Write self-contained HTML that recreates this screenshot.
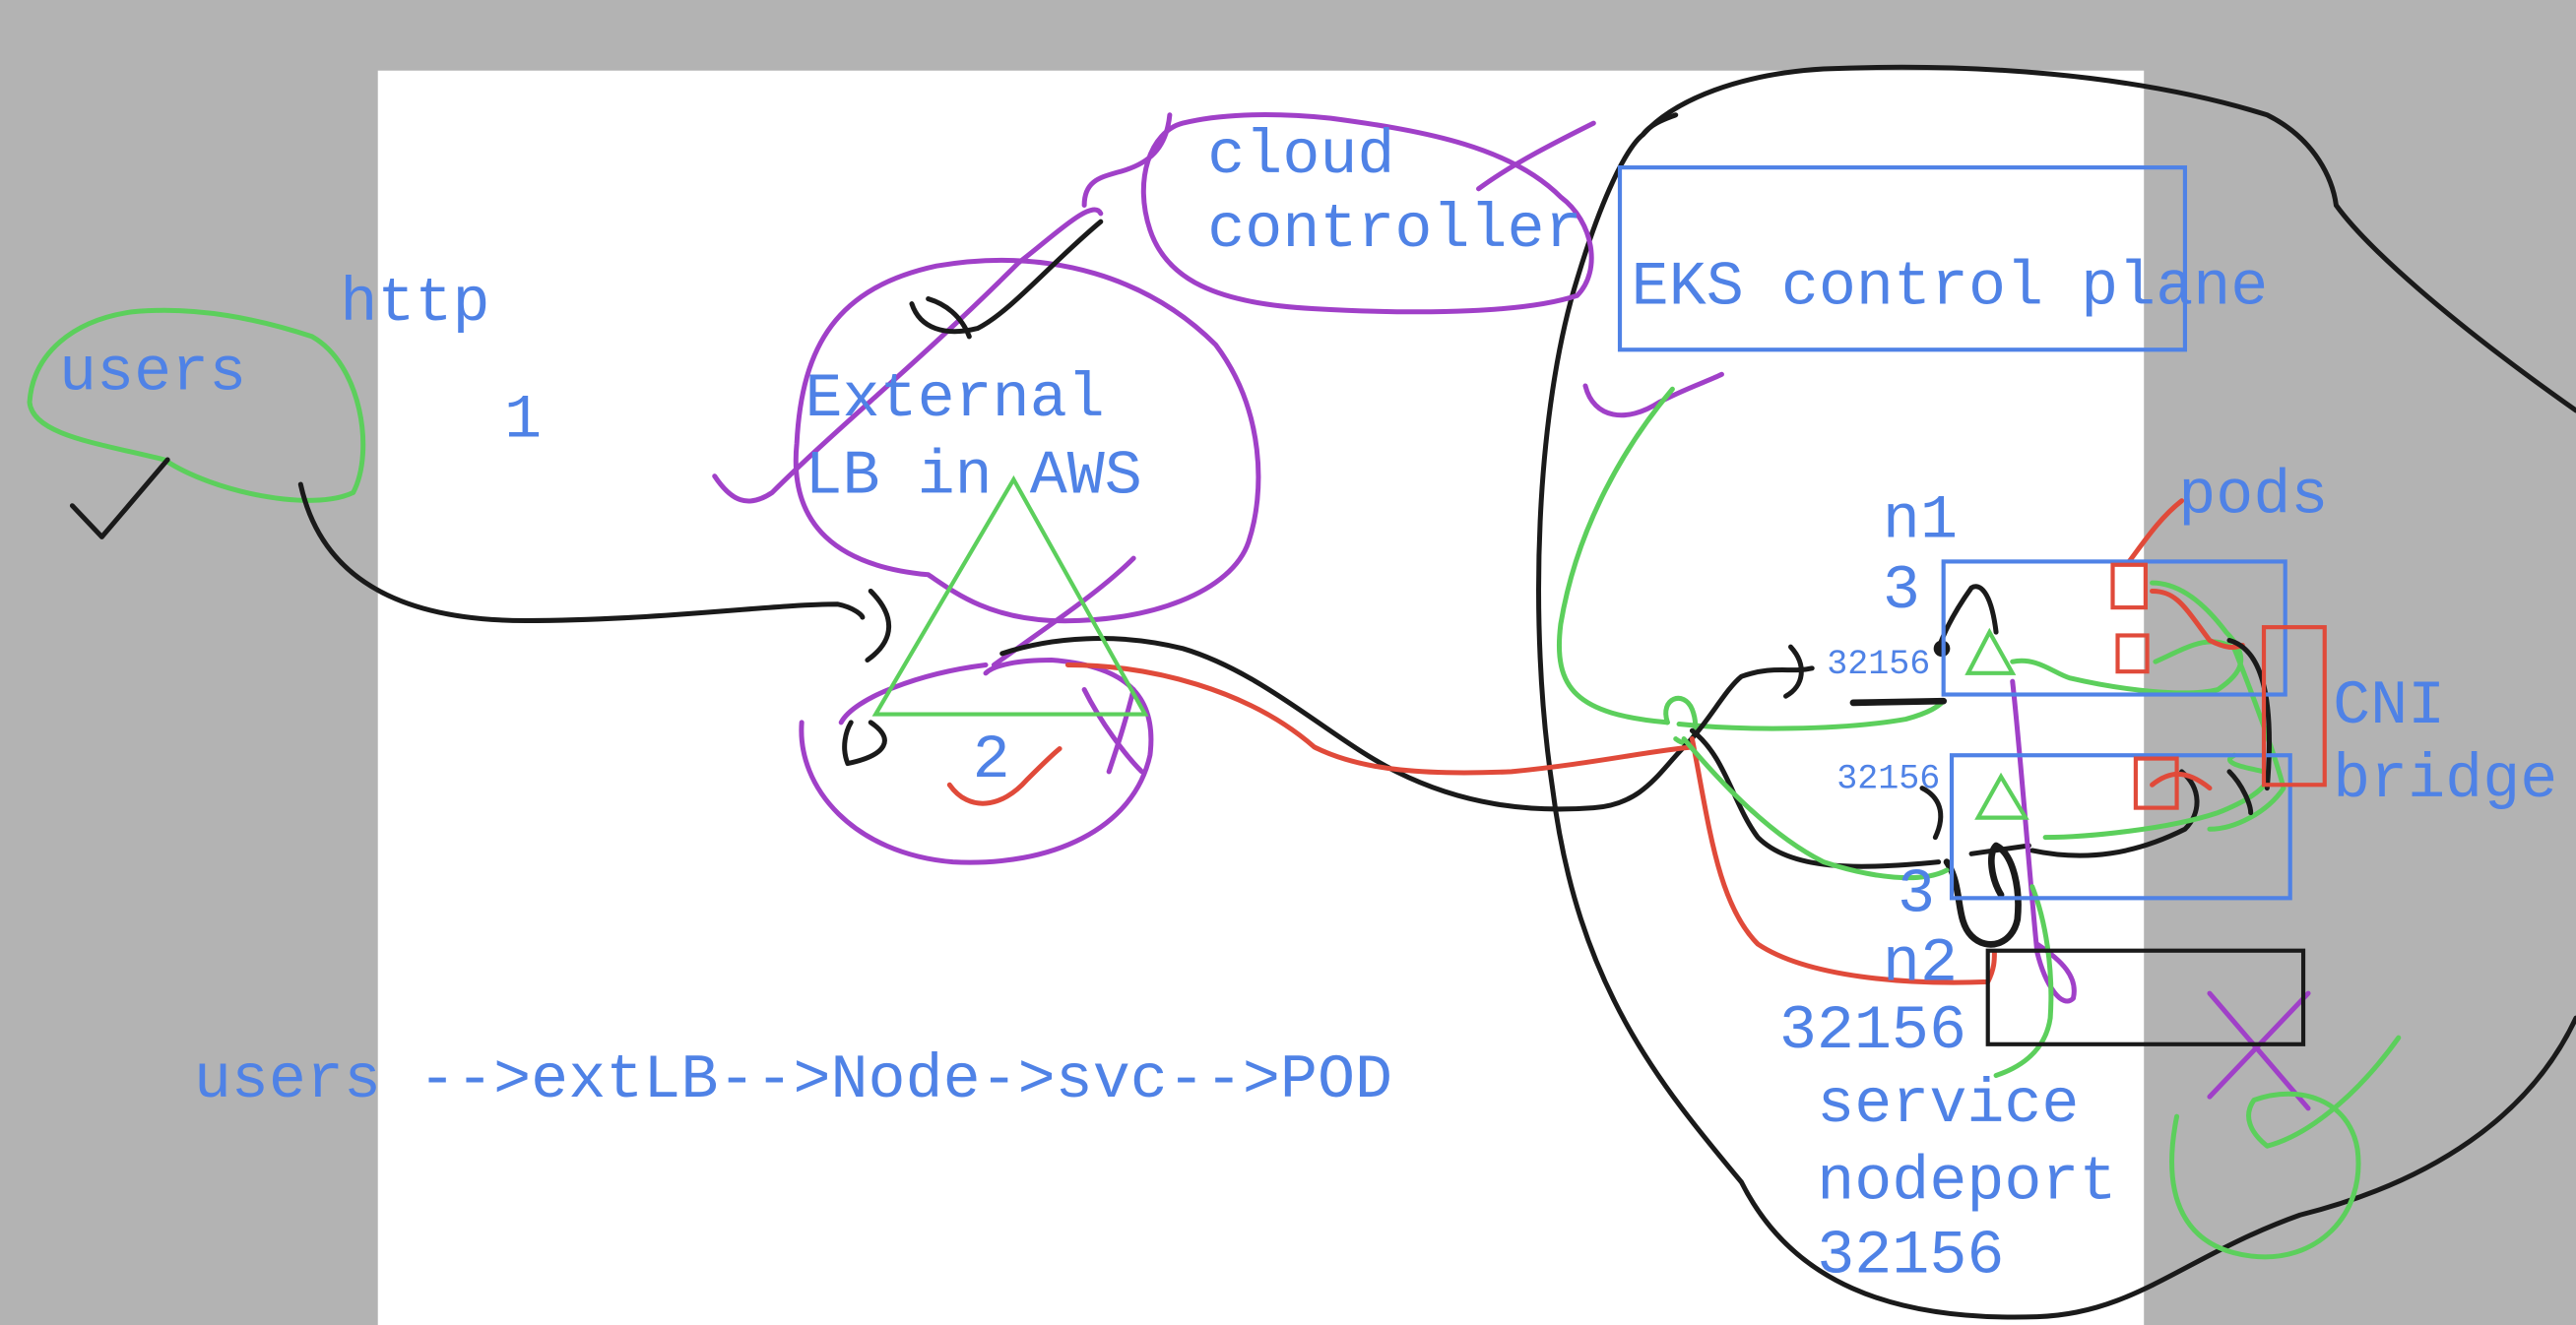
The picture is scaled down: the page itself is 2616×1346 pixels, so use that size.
<!DOCTYPE html>
<html><head><meta charset="utf-8"><style>
html,body{margin:0;padding:0;background:#b3b3b3;}
svg{display:block;}
text{font-family:"Liberation Mono",monospace;fill:#4f82e6;}
</style></head><body>
<svg width="2616" height="1346" viewBox="0 0 1568 807" preserveAspectRatio="none" xmlns="http://www.w3.org/2000/svg">
<rect x="0" y="0" width="1568" height="807" fill="#b3b3b3"/>
<rect x="230" y="43" width="1075" height="764" fill="#ffffff"/>

<g fill="none" stroke-linecap="round" stroke-linejoin="round">
<!-- big black blob -->
<path d="M1000,82 C1020,60 1060,45 1110,42 C1200,38 1300,45 1380,70 C1410,85 1420,110 1422,125 C1440,150 1490,195 1568,250" stroke="#1a1a1a" stroke-width="3"/>
<path d="M1568,620 C1540,680 1480,720 1400,740 C1330,765 1300,800 1240,802 C1150,805 1090,780 1060,720 C1010,660 960,600 945,480 C930,380 935,250 960,170 C975,120 990,90 1000,82 C1005,75 1015,72 1020,70" stroke="#1a1a1a" stroke-width="3"/>
<!-- users green blob -->
<path d="M100,280 C60,270 20,265 18,245 C20,215 45,195 80,190 C120,186 160,195 190,205 C220,222 228,275 215,300 C190,312 130,300 100,280" stroke="#5ccf5c" stroke-width="3"/>
<!-- checkmark under users -->
<path d="M44,308 L62,327 L102,280" stroke="#1a1a1a" stroke-width="3"/>
<!-- users to LB black line -->
<path d="M183,295 C195,350 240,378 320,378 C400,378 470,368 510,368 C520,370 525,375 525,376" stroke="#1a1a1a" stroke-width="3"/>
<path d="M530,360 C545,375 545,390 528,402" stroke="#1a1a1a" stroke-width="3"/>
<path d="M530,440 C545,450 540,460 516,465 C512,455 515,445 518,440" stroke="#1a1a1a" stroke-width="3"/>
<!-- purple LB blob -->
<path d="M565,350 C510,345 480,320 485,270 C488,210 510,175 570,162 C640,150 700,170 740,210 C770,250 770,300 760,330 C750,360 700,380 640,378 C600,376 580,360 565,350" stroke="#a040c8" stroke-width="3"/>
<path d="M435,290 C445,305 455,310 470,300 C510,260 560,220 620,160 C640,145 665,120 670,130" stroke="#a040c8" stroke-width="3"/>
<path d="M555,185 C560,200 575,205 595,200 C615,190 640,160 670,135" stroke="#1a1a1a" stroke-width="3"/>
<path d="M565,182 C575,185 585,192 590,205" stroke="#1a1a1a" stroke-width="3"/>
<!-- lower purple blob -->
<path d="M600,405 C560,410 520,425 512,440" stroke="#a040c8" stroke-width="3"/>
<path d="M488,440 C485,480 520,520 580,525 C640,528 690,505 700,460 C705,420 680,405 640,402 C620,402 605,405 600,410" stroke="#a040c8" stroke-width="3"/>
<path d="M605,405 C640,380 670,360 690,340" stroke="#a040c8" stroke-width="3"/>
<path d="M660,420 C670,440 685,460 695,470 M690,420 C685,440 680,455 675,470" stroke="#a040c8" stroke-width="3"/>
<!-- cloud controller purple blob -->
<path d="M660,125 C660,110 670,108 680,105 C700,100 710,90 712,70" stroke="#a040c8" stroke-width="3"/>
<path d="M720,75 C700,80 690,110 700,140 C710,170 740,185 800,188 C870,192 930,190 960,180 C975,165 970,135 950,120 C920,90 870,80 810,72 C770,68 740,70 720,75" stroke="#a040c8" stroke-width="3"/>
<path d="M900,115 C920,100 950,85 970,75" stroke="#a040c8" stroke-width="3"/>
<path d="M965,235 C970,255 990,258 1010,245 C1025,237 1040,232 1048,228" stroke="#a040c8" stroke-width="3"/>
<!-- green from EKS down -->
<path d="M1018,237 C990,270 960,320 950,380 C945,420 960,435 1015,440" stroke="#5ccf5c" stroke-width="3"/>
<!-- green knot -->
<path d="M1015,440 C1010,425 1025,420 1030,432 C1035,445 1030,458 1020,450" stroke="#5ccf5c" stroke-width="3"/>
<!-- green under n1 -->
<path d="M1022,441 C1060,445 1120,445 1160,438 C1175,434 1180,430 1183,427" stroke="#5ccf5c" stroke-width="3"/>
<!-- black from LB to node -->
<path d="M610,398 C640,388 680,385 720,395 C770,410 810,450 850,470 C890,490 930,495 970,492 C1000,490 1010,470 1025,455 C1040,440 1050,420 1060,412 C1080,405 1090,410 1103,407" stroke="#1a1a1a" stroke-width="3"/>
<path d="M1090,394 C1100,405 1098,418 1087,424" stroke="#1a1a1a" stroke-width="3"/>
<path d="M1128,428 L1183,427" stroke="#1a1a1a" stroke-width="4"/>
<!-- red from LB to node -->
<path d="M650,405 C700,405 760,420 800,455 C830,470 870,472 920,470 C970,465 1000,458 1030,455" stroke="#e04a3a" stroke-width="3"/>
<path d="M578,478 C590,495 610,492 625,475 C635,465 640,460 645,456" stroke="#e04a3a" stroke-width="3"/>
<path d="M1030,450 C1040,500 1045,550 1070,575 C1100,595 1160,600 1210,598 C1214,590 1214,585 1214,580" stroke="#e04a3a" stroke-width="3"/>
<!-- black loop to node2 -->
<path d="M1030,445 C1050,460 1055,490 1070,510 C1090,530 1130,530 1180,525" stroke="#1a1a1a" stroke-width="3"/>
<path d="M1200,520 L1235,515" stroke="#1a1a1a" stroke-width="3"/>
<path d="M1185,525 C1195,540 1190,560 1200,570 C1210,580 1225,575 1228,560 C1230,540 1225,520 1215,515 C1210,520 1212,535 1218,545" stroke="#1a1a1a" stroke-width="4"/>
<path d="M1237,518 C1270,525 1300,520 1330,505 C1340,495 1340,480 1328,470" stroke="#1a1a1a" stroke-width="3"/>
<path d="M1170,480 C1180,485 1185,495 1178,510" stroke="#1a1a1a" stroke-width="3"/>
<!-- green loop node2 -->
<path d="M1025,450 C1050,480 1080,510 1110,525 C1140,535 1170,538 1185,530" stroke="#5ccf5c" stroke-width="3"/>
<path d="M1245,510 C1270,510 1320,505 1350,495 C1375,485 1385,475 1378,470 C1370,468 1350,465 1360,460" stroke="#5ccf5c" stroke-width="3"/>
<!-- node1 black arc -->
<path d="M1180,395 C1185,380 1195,365 1200,358 C1205,355 1212,360 1215,385" stroke="#1a1a1a" stroke-width="3"/>
<circle cx="1182" cy="395" r="5" fill="#1a1a1a"/>
<!-- green in node1 to right -->
<path d="M1225,403 C1240,400 1250,410 1260,413 C1290,420 1330,425 1350,420 C1365,410 1370,400 1355,385 C1340,365 1325,355 1310,355" stroke="#5ccf5c" stroke-width="3"/>
<path d="M1312,403 C1330,395 1345,385 1360,395 C1370,420 1385,460 1390,480 C1380,495 1360,505 1345,505" stroke="#5ccf5c" stroke-width="3"/>
<path d="M1310,360 C1325,360 1330,370 1345,390 C1355,395 1360,395 1365,393" stroke="#e04a3a" stroke-width="3"/>
<path d="M1310,478 C1320,470 1330,468 1345,480" stroke="#e04a3a" stroke-width="3"/>
<path d="M1357,390 C1375,395 1385,420 1380,480" stroke="#1a1a1a" stroke-width="3"/>
<path d="M1357,470 C1365,478 1370,490 1370,495" stroke="#1a1a1a" stroke-width="3"/>
<!-- purple vertical -->
<path d="M1225,415 C1230,460 1235,530 1240,580 C1245,600 1255,615 1262,608 C1265,595 1255,585 1240,575" stroke="#a040c8" stroke-width="3"/>
<!-- green down to service -->
<path d="M1237,540 C1245,560 1250,590 1248,620 C1245,640 1230,650 1215,655" stroke="#5ccf5c" stroke-width="3"/>
<!-- pods red line -->
<path d="M1296,342 C1305,330 1315,315 1328,305" stroke="#e04a3a" stroke-width="3"/>
<!-- purple X -->
<path d="M1345,605 L1405,675 M1405,605 L1345,668" stroke="#a040c8" stroke-width="3"/>
<!-- green bottom right blob -->
<path d="M1460,632 C1440,660 1410,690 1380,698 C1370,690 1365,680 1372,670 C1400,660 1430,670 1435,700 C1440,740 1410,770 1370,765 C1330,760 1315,730 1325,680" stroke="#5ccf5c" stroke-width="3"/>
</g>

<!-- rectangles -->
<rect x="986" y="102" width="344" height="111" fill="none" stroke="#4f82e6" stroke-width="2.5"/>
<rect x="1183" y="342" width="208" height="81" fill="none" stroke="#4f82e6" stroke-width="2.5"/>
<rect x="1188" y="460" width="206" height="87" fill="none" stroke="#4f82e6" stroke-width="2.5"/>
<rect x="1210" y="579" width="192" height="57" fill="none" stroke="#1a1a1a" stroke-width="2.5"/>
<rect x="1378" y="382" width="37" height="96" fill="none" stroke="#e04a3a" stroke-width="2.5"/>
<rect x="1286" y="344" width="20" height="26" fill="none" stroke="#e04a3a" stroke-width="2.5"/>
<rect x="1289" y="387" width="18" height="22" fill="none" stroke="#e04a3a" stroke-width="2.5"/>
<rect x="1300" y="462" width="25" height="30" fill="none" stroke="#e04a3a" stroke-width="2.5"/>
<!-- triangles -->
<polygon points="617,292 533,435 697,435" fill="none" stroke="#5ccf5c" stroke-width="2.5"/>
<polygon points="1211,385 1198,410 1225,410" fill="none" stroke="#5ccf5c" stroke-width="2.5"/>
<polygon points="1218,473 1204,498 1233,498" fill="none" stroke="#5ccf5c" stroke-width="2.5"/>

<!-- text -->
<g font-size="38">
<text x="207" y="195">http</text>
<text x="36" y="237">users</text>
<text x="307" y="266">1</text>
<text x="490" y="253">External</text>
<text x="490" y="300">LB in AWS</text>
<text x="592" y="473">2</text>
<text x="735" y="105">cloud</text>
<text x="735" y="150">controller</text>
<text x="993" y="185">EKS control plane</text>
<text x="1146" y="327">n1</text>
<text x="1146" y="370">3</text>
<text x="1326" y="312">pods</text>
<text x="1420" y="440">CNI</text>
<text x="1420" y="485">bridge</text>
<text x="1155" y="555">3</text>
<text x="1146" y="597">n2</text>
<text x="1083" y="638">32156</text>
<text x="1106" y="683">service</text>
<text x="1106" y="730">nodeport</text>
<text x="1106" y="775">32156</text>
<text x="118" y="668">users --&gt;extLB--&gt;Node-&gt;svc--&gt;POD</text>
</g>
<text x="1112" y="410" font-size="21">32156</text>
<text x="1118" y="480" font-size="21">32156</text>
</svg>
</body></html>
